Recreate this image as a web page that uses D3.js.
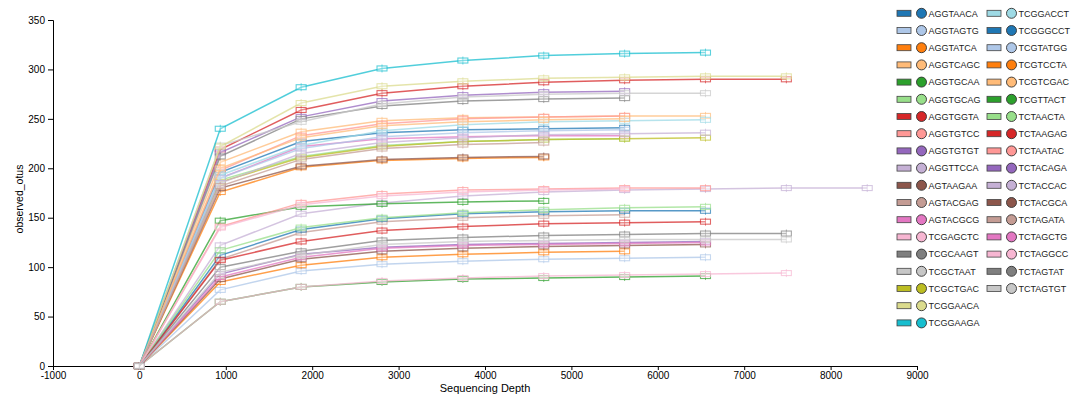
<!DOCTYPE html>
<html>
<head>
<meta charset="utf-8">
<script src="https://cdn.jsdelivr.net/npm/d3@7"></script>
<style>
body { margin: 0; background: #fff; }
text { font-family: Arial, "Liberation Sans", sans-serif; }
</style>
</head>
<body>
<svg id="chart" width="1084" height="403"></svg>
<script>
// rarefaction depths (shared by all samples)
var depths = [0, 936, 1872, 2808, 3744, 4680, 5616, 6552, 7488, 8424];

var samples = ["AGGTAACA", "AGGTAGTG", "AGGTATCA", "AGGTCAGC", "AGGTGCAA", "AGGTGCAG",
    "AGGTGGTA", "AGGTGTCC", "AGGTGTGT", "AGGTTCCA", "AGTAAGAA", "AGTACGAG", "AGTACGCG",
    "TCGAGCTC", "TCGCAAGT", "TCGCTAAT", "TCGCTGAC", "TCGGAACA", "TCGGAAGA", "TCGGACCT",
    "TCGGGCCT", "TCGTATGG", "TCGTCCTA", "TCGTCGAC", "TCGTTACT", "TCTAACTA", "TCTAAGAG",
    "TCTAATAC", "TCTACAGA", "TCTACCAC", "TCTACGCA", "TCTAGATA", "TCTAGCTG", "TCTAGGCC",
    "TCTAGTAT", "TCTAGTGT"];

// mean observed_otus per depth, one list per sample (shorter list = fewer reads)
var otus = [
    [0, 196, 227, 236, 239, 240, 241],
    [0, 77, 96, 103, 106, 108, 109, 110],
    [0, 176, 201, 208, 210, 211],
    [0, 206, 237, 248, 251, 252, 253, 253],
    [0, 65, 80, 85, 88, 89, 90, 91],
    [0, 188, 212, 223, 227, 229, 230],
    [0, 219, 259, 276, 283, 287, 289, 290, 290],
    [0, 198, 233, 245, 250, 252, 253],
    [0, 216, 252, 268, 274, 277, 278],
    [0, 122, 154, 165, 172, 176, 178, 179, 180, 180],
    [0, 180, 202, 209, 211, 212],
    [0, 108, 135, 146, 150, 152, 153],
    [0, 190, 222, 230, 232, 233, 233],
    [0, 65, 80, 86, 89, 91, 92, 93, 94],
    [0, 212, 250, 263, 268, 270, 271],
    [0, 223, 247, 265, 272, 275, 276, 276],
    [0, 186, 211, 222, 227, 229, 230, 231],
    [0, 222, 266, 283, 288, 291, 292, 293, 293],
    [0, 240, 282, 301, 309, 314, 316, 317],
    [0, 193, 223, 238, 244, 247, 248, 249],
    [0, 112, 138, 149, 154, 156, 157, 157],
    [0, 190, 220, 232, 236, 238, 239],
    [0, 85, 102, 110, 113, 115, 116],
    [0, 200, 231, 243, 247, 249, 250],
    [0, 147, 161, 164, 166, 167],
    [0, 117, 140, 150, 155, 158, 160, 161],
    [0, 107, 126, 137, 141, 144, 145, 146],
    [0, 141, 165, 174, 178, 179, 180, 180],
    [0, 93, 113, 120, 123, 124, 125, 126],
    [0, 185, 215, 226, 231, 234, 235, 236],
    [0, 88, 108, 116, 119, 121, 122, 123],
    [0, 182, 209, 220, 224, 226],
    [0, 90, 110, 119, 122, 123, 124, 125],
    [0, 140, 163, 172, 176, 178, 179],
    [0, 100, 116, 127, 130, 132, 133, 134, 134],
    [0, 95, 112, 123, 126, 127, 128, 128, 128]
];

var xTicks = [-1000, 0, 1000, 2000, 3000, 4000, 5000, 6000, 7000, 8000, 9000];
var yTicks = [0, 50, 100, 150, 200, 250, 300, 350];

var palette = ["#1f77b4", "#aec7e8", "#ff7f0e", "#ffbb78", "#2ca02c", "#98df8a", "#d62728",
    "#ff9896", "#9467bd", "#c5b0d5", "#8c564b", "#c49c94", "#e377c2", "#f7b6d2", "#7f7f7f",
    "#c7c7c7", "#bcbd22", "#dbdb8d", "#17becf", "#9edae5"];

var svg = d3.select("#chart");
var color = d3.scaleOrdinal().domain(samples).range(palette);

var x = d3.scaleLinear().domain([-1000, 9000]).range([53, 917]);
var y = d3.scaleLinear().domain([0, 350]).range([366, 20]);

// axes
var gx = svg.append("g")
    .attr("transform", "translate(0," + y(0) + ")")
    .call(d3.axisBottom(x).tickValues(xTicks).tickSize(4).tickPadding(2)
        .tickFormat(function (d) { return String(d); }));
var gy = svg.append("g")
    .attr("transform", "translate(" + x(-1000) + ",0)")
    .call(d3.axisLeft(y).tickValues(yTicks).tickSize(5).tickPadding(3));
[gx, gy].forEach(function (g) {
    g.selectAll("text").attr("font-size", "10px").attr("fill", "#000")
        .attr("font-family", "Arial, 'Liberation Sans', sans-serif");
    g.select(".domain").attr("stroke", "#000");
});

svg.append("text")
    .attr("x", 485)
    .attr("y", 392)
    .attr("text-anchor", "middle")
    .attr("font-size", "11px")
    .text("Sequencing Depth");

svg.append("text")
    .attr("transform", "translate(23,199) rotate(-90)")
    .attr("text-anchor", "middle")
    .attr("font-size", "10.5px")
    .text("observed_otus");

// lines + box markers
var line = d3.line()
    .x(function (d) { return x(d.depth); })
    .y(function (d) { return y(d.value); });

var series = samples.map(function (name, i) {
    return {
        name: name,
        points: otus[i].map(function (v, j) { return { depth: depths[j], value: v }; })
    };
});

var plot = svg.append("g");

series.forEach(function (s) {
    var c = color(s.name);
    var g = plot.append("g");
    g.append("path")
        .datum(s.points)
        .attr("d", line)
        .attr("fill", "none")
        .attr("stroke", c)
        .attr("stroke-opacity", 0.75)
        .attr("stroke-width", 1.5);

    var marks = g.selectAll("g.mark")
        .data(s.points)
        .enter().append("g")
        .attr("class", "mark")
        .attr("transform", function (d) { return "translate(" + x(d.depth) + "," + y(d.value) + ")"; });
    marks.append("line")
        .attr("y1", -4).attr("y2", 4)
        .attr("stroke", c).attr("stroke-opacity", 0.6);
    marks.append("rect")
        .attr("x", -5).attr("y", -2.5)
        .attr("width", 10).attr("height", 5)
        .attr("fill", "#fff").attr("fill-opacity", 0.3)
        .attr("stroke", c).attr("stroke-opacity", 0.7)
        .attr("stroke-width", 1.1);
});

// legend, two columns
var perCol = 19;
var legend = svg.append("g");
var items = legend.selectAll("g.item")
    .data(samples)
    .enter().append("g")
    .attr("class", "item")
    .attr("transform", function (d, i) {
        var col = Math.floor(i / perCol), row = i % perCol;
        return "translate(" + (897 + col * 90) + "," + (13.3 + row * 17.2) + ")";
    });
items.append("rect")
    .attr("x", 0).attr("y", -3)
    .attr("width", 14).attr("height", 6)
    .attr("fill", function (d) { return color(d); })
    .attr("stroke", "#444").attr("stroke-width", 0.8);
items.append("circle")
    .attr("cx", 24.5).attr("cy", 0).attr("r", 5)
    .attr("fill", function (d) { return color(d); })
    .attr("stroke", "#333").attr("stroke-width", 0.9);
items.append("text")
    .attr("x", 31.5).attr("y", 3.3)
    .attr("font-size", "9px")
    .attr("fill", "#222")
    .text(function (d) { return d; });
</script>
</body>
</html>
